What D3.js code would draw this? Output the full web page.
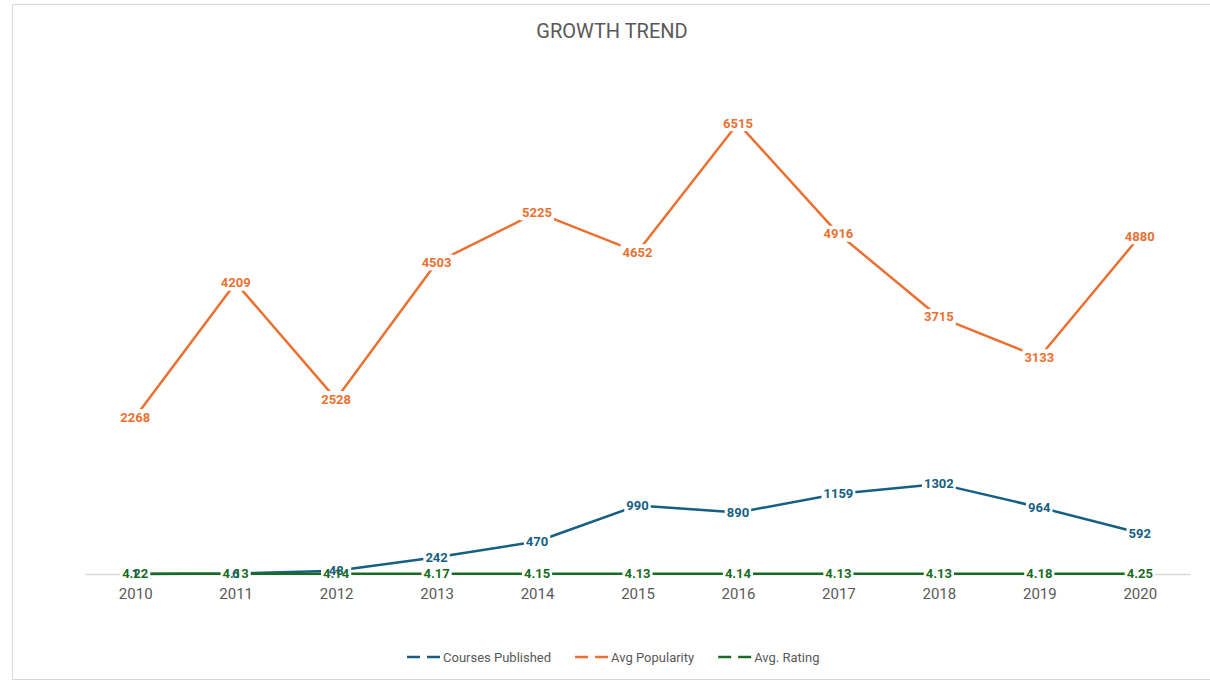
<!DOCTYPE html>
<html>
<head>
  <meta charset="utf-8">
  <title>Growth Trend</title>
  <style>
    body { margin: 0; background: #fff; }
    svg { display: block; }
    .axis text { font: 15px Roboto, sans-serif; fill: #595959; }
    .label { font: bold 13px Roboto, sans-serif; }
    .legend text { font: 13px Roboto, sans-serif; fill: #595959; }
  </style>
</head>
<body>
  <div id="chart"></div>

  <script src="https://cdn.jsdelivr.net/npm/d3@7"></script>
  <script>
    var years = [2010, 2011, 2012, 2013, 2014, 2015, 2016, 2017, 2018, 2019, 2020];
    var coursesPublished = [1, 6, 48, 242, 470, 990, 890, 1159, 1302, 964, 592];
    var avgPopularity = [2268, 4209, 2528, 4503, 5225, 4652, 6515, 4916, 3715, 3133, 4880];
    var avgRating = [4.22, 4.13, 4.14, 4.17, 4.15, 4.13, 4.14, 4.13, 4.13, 4.18, 4.25];

    var series = [
      {name: "Courses Published", values: coursesPublished, color: "#156082"},
      {name: "Avg Popularity", values: avgPopularity, color: "#E97132"},
      {name: "Avg. Rating", values: avgRating, color: "#196B24"}
    ];

    var width = 1210, height = 681;

    var svg = d3.select("#chart").append("svg")
      .attr("width", width)
      .attr("height", height);

    // chart frame
    svg.append("rect")
      .attr("x", 12.5).attr("y", 4.5)
      .attr("width", width).attr("height", 675)
      .attr("fill", "#fff")
      .attr("stroke", "#d9d9d9");

    svg.append("text")
      .attr("x", 612).attr("y", 38)
      .attr("text-anchor", "middle")
      .style("font", "20px Roboto, sans-serif")
      .style("fill", "#595959")
      .text("GROWTH TREND");

    var x = d3.scalePoint()
      .domain(years)
      .range([85, 1190])
      .padding(0.5);

    var y = d3.scaleLinear()
      .domain([0, 7000])
      .range([574, 89.6]);

    // category axis
    var xAxis = svg.append("g")
      .attr("class", "axis")
      .attr("transform", "translate(0," + y(0) + ")")
      .call(d3.axisBottom(x).tickSize(0).tickPadding(14));
    xAxis.select(".domain").attr("stroke", "#d9d9d9").attr("stroke-width", 1.3);

    var line = d3.line()
      .x(function(d, i) { return x(years[i]); })
      .y(function(d) { return y(d); });

    svg.selectAll("path.series")
      .data(series)
      .enter()
      .append("path")
      .attr("class", "series")
      .attr("fill", "none")
      .attr("stroke", function(d) { return d.color; })
      .attr("stroke-width", 2.5)
      .attr("stroke-linejoin", "round")
      .attr("d", function(d) { return line(d.values); });

    // data labels: white backgrounds first, then text
    var labels = [];
    series.forEach(function(s) {
      s.values.forEach(function(v, i) {
        labels.push({x: x(years[i]), y: y(v), text: String(v), color: s.color});
      });
    });

    var bg = svg.append("g");
    var fg = svg.append("g");

    fg.selectAll("text")
      .data(labels)
      .enter()
      .append("text")
      .attr("class", "label")
      .attr("x", function(d) { return d.x; })
      .attr("y", function(d) { return d.y; })
      .attr("dy", "0.35em")
      .attr("text-anchor", "middle")
      .attr("fill", function(d) { return d.color; })
      .text(function(d) { return d.text; })
      .each(function(d) { d.w = this.getComputedTextLength(); });

    bg.selectAll("rect")
      .data(labels)
      .enter()
      .append("rect")
      .attr("x", function(d) { return d.x - d.w / 2 - 2; })
      .attr("y", function(d) { return d.y - 8; })
      .attr("width", function(d) { return d.w + 4; })
      .attr("height", 16)
      .attr("fill", "#fff");

    // legend
    var legend = svg.append("g").attr("class", "legend");
    var lx = 407, ly = 657;
    series.forEach(function(s) {
      var g = legend.append("g").attr("transform", "translate(" + lx + "," + ly + ")");
      g.append("line")
        .attr("x1", 0).attr("x2", 33)
        .attr("stroke", s.color)
        .attr("stroke-width", 2.5)
        .attr("stroke-dasharray", "13,7");
      var t = g.append("text")
        .attr("x", 36)
        .attr("dy", "0.35em")
        .text(s.name);
      lx += 36 + t.node().getComputedTextLength() + 24;
    });
  </script>
</body>
</html>
